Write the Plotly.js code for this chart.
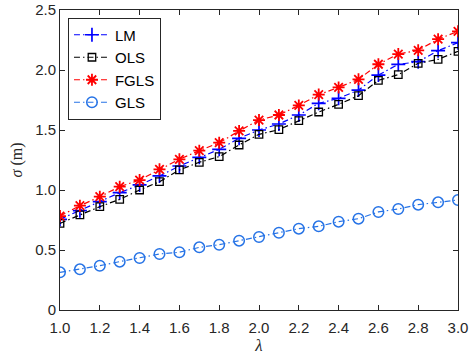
<!DOCTYPE html>
<html><head><meta charset="utf-8">
<script src="https://cdn.plot.ly/plotly-3.0.1.min.js"></script>
<style>html,body{margin:0;padding:0;background:#fff}#chart{width:475px;height:360px}</style>
</head><body><div id="chart"></div>
<script>
const lambda = [1.0,1.1,1.2,1.3,1.4,1.5,1.6,1.7,1.8,1.9,2.0,2.1,2.2,2.3,2.4,2.5,2.6,2.7,2.8,2.9,3.0];
const LM   = [0.756,0.828,0.903,0.978,1.042,1.117,1.200,1.272,1.339,1.431,1.500,1.550,1.625,1.722,1.764,1.833,1.958,2.047,2.069,2.161,2.228];
const OLS  = [0.722,0.792,0.861,0.922,1.000,1.069,1.167,1.231,1.278,1.375,1.464,1.503,1.578,1.650,1.714,1.786,1.914,1.961,2.056,2.089,2.156];
const FGLS = [0.783,0.869,0.944,1.028,1.083,1.172,1.256,1.328,1.394,1.492,1.583,1.625,1.705,1.795,1.855,1.922,2.048,2.133,2.164,2.257,2.322];
const GLS  = [0.314,0.339,0.369,0.403,0.433,0.467,0.481,0.522,0.544,0.578,0.608,0.644,0.678,0.697,0.736,0.761,0.817,0.842,0.878,0.897,0.917];
const xTicks = [1.0,1.2,1.4,1.6,1.8,2.0,2.2,2.4,2.6,2.8,3.0];
const xTickText = ["1.0","1.2","1.4","1.6","1.8","2.0","2.2","2.4","2.6","2.8","3.0"];
const yTicks = [0,0.5,1.0,1.5,2.0,2.5];
const yTickText = ["0","0.5","1.0","1.5","2.0","2.5"];

function tr(name, y, color, symbol, size, width){
  return {x: lambda, y: y, name: name, type: 'scatter', mode: 'lines+markers',
    line: {color: color, width: 1.2, dash: '6px,3px,1.5px,3px'},
    marker: {symbol: symbol, size: size, color: color, line: {color: color, width: width}}};
}
const data = [
  tr('LM', LM, '#0000ff', 'cross-thin', 10, 1.7),
  tr('OLS', OLS, '#000000', 'square-open', 7.5, 1.3),
  tr('FGLS', FGLS, '#ff0000', 'asterisk-open', 10, 1.8),
  tr('GLS', GLS, '#2673e6', 'circle-open', 10.5, 1.5)
];
const axisBase = {showgrid:false, zeroline:false, showline:true, mirror:'ticks', linecolor:'#262626', linewidth:1,
  ticks:'inside', ticklen:5, tickcolor:'#262626', tickfont:{family:'Liberation Sans, Arial, sans-serif', size:15, color:'#262626'}};
const layout = {
  width:475, height:360, margin:{l:60, r:17, t:10, b:50},
  paper_bgcolor:'#fff', plot_bgcolor:'#fff', showlegend:true,
  xaxis: Object.assign({}, axisBase, {range:[1,3], tickvals:xTicks, ticktext:xTickText, ticklabelstandoff:4,
    title:{text:'<i>λ</i>', font:{family:'Liberation Serif, Times New Roman, serif', size:17, color:'#262626'}, standoff:2}}),
  yaxis: Object.assign({}, axisBase, {range:[0,2.5], tickvals:yTicks, ticktext:yTickText,
    title:{text:'<i>σ</i> (m)', font:{family:'Liberation Serif, Times New Roman, serif', size:16, color:'#262626'}, standoff:8}}),
  legend:{x:0.02, y:0.975, xanchor:'left', yanchor:'top', bgcolor:'#fff', bordercolor:'#262626', borderwidth:1,
    font:{family:'Liberation Sans, Arial, sans-serif', size:15, color:'#000'}, tracegroupgap:0, itemwidth:36}
};
Plotly.newPlot('chart', data, layout, {displayModeBar:false, staticPlot:true});
</script></body></html>
